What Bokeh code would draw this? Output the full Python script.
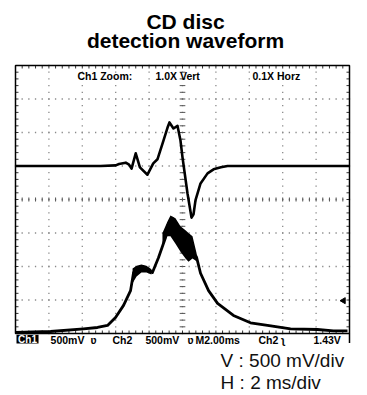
import numpy as np
from bokeh.plotting import figure
from bokeh.models import Range1d
from bokeh.core.properties import value
from bokeh.embed import file_html
from bokeh.resources import INLINE

# ---- data (time in ms, screen voltage in V; 2 ms/div, 500 mV/div) ----
ch1_t = [-10.0, -4.9, -4.0, -3.8, -3.4, -3.2, -3.05, -2.8, -2.55, -2.1, -1.75, -1.5,
         -1.14, -0.9, -0.78, -0.54, -0.30, -0.12, 0.0, 0.30, 0.54, 0.66, 0.78, 1.08,
         1.5, 1.86, 2.3, 2.7, 10.0]
ch1_v = [0.50, 0.50, 0.51, 0.53, 0.55, 0.52, 0.46, 0.69, 0.48, 0.37, 0.54, 0.60,
         0.88, 1.07, 1.15, 1.06, 1.10, 0.88, 0.63, 0.09, -0.27, -0.22, -0.01, 0.24,
         0.39, 0.45, 0.48, 0.50, 0.50]

ch2_t = [-10.0, -7.90, -5.93, -5.09, -4.49, -4.01, -3.53, -3.11, -2.93, -2.69, -2.40,
         -2.10, -1.80, -1.44, -1.02, -0.84, -0.60, -0.30, 0.0, 0.36, 0.60, 0.84, 1.08,
         1.56, 2.10, 3.05, 4.07, 5.09, 6.47, 8.08, 9.04, 9.88]
ch2_v = [-1.985, -1.97, -1.93, -1.91, -1.88, -1.76, -1.58, -1.36, -1.09, -1.03, -1.00,
         -1.03, -1.09, -0.87, -0.57, -0.36, -0.28, -0.45, -0.60, -0.72, -0.75, -0.86,
         -1.10, -1.36, -1.55, -1.73, -1.84, -1.88, -1.93, -1.94, -1.96, -1.96]

# noisy envelope of Ch2 near the main peak
band_t = [-1.20, -0.90, -0.72, -0.42, -0.12, 0.18, 0.36, 0.60, 0.84]
band_hi = [-0.50, -0.33, -0.24, -0.28, -0.40, -0.46, -0.50, -0.55, -0.80]
band_lo = [-0.66, -0.55, -0.55, -0.66, -0.78, -0.88, -0.93, -0.88, -0.92]
# noisy envelope on the shoulder
bump_t = [-2.99, -2.75, -2.46, -2.16, -1.86]
bump_hi = [-1.03, -0.99, -0.97, -0.99, -1.04]
bump_lo = [-1.25, -1.15, -1.09, -1.09, -1.12]

status_texts = ["500mV", "\u028b", "Ch2", "500mV", "\u028b", "M2.00ms", "Ch2", "\u0285", "1.43V"]
zoom_texts = ["Ch1 Zoom:", "1.0X Vert", "0.1X Horz"]

# ---- figure ----
p = figure(width=367, height=395, x_range=Range1d(-10.898, 11.078),
           y_range=Range1d(-2.925, 2.970), output_backend="svg",
           toolbar_location=None, x_axis_location=None, y_axis_location=None,
           min_border=0)
p.outline_line_color = None
p.grid.visible = False
p.background_fill_color = "white"

# graticule dots
dot_col = "#8a8a8a"
xs, ys = [], []
for gx in np.arange(-8, 8.01, 2):
    for gy in np.arange(-2, 2.001, 0.1):
        xs.append(gx); ys.append(gy)
for gy in np.arange(-1.5, 1.501, 0.5):
    for gx in np.arange(-10, 10.001, 0.4):
        xs.append(gx); ys.append(gy)
p.scatter(xs, ys, marker="square", size=1.3, color=dot_col, line_width=0)

# center cross ticks
tx = np.arange(-10, 10.001, 0.4)
p.segment(x0=tx, y0=-0.03, x1=tx, y1=0.03, line_color="#555", line_width=1)
ty = np.arange(-2, 2.001, 0.1)
p.segment(x0=-0.17, y0=ty, x1=0.17, y1=ty, line_color="#555", line_width=1)

# border ticks
p.segment(x0=tx, y0=2.0, x1=tx, y1=1.955, line_color="#333", line_width=1)
p.segment(x0=tx, y0=-2.0, x1=tx, y1=-1.955, line_color="#333", line_width=1)
p.segment(x0=-10, y0=ty, x1=-9.82, y1=ty, line_color="#333", line_width=1)
p.segment(x0=10, y0=ty, x1=9.82, y1=ty, line_color="#333", line_width=1)

# border box
p.quad(left=-10, right=10, bottom=-2.0, top=2.0, fill_color=None,
       line_color="black", line_width=1.5)
p.segment(x0=10, y0=-2.0, x1=10, y1=-2.14, line_color="black", line_width=1.5)

# traces
p.line(ch1_t, ch1_v, line_color="black", line_width=2.6, line_join="round")
p.varea(x=bump_t, y1=bump_lo, y2=bump_hi, fill_color="black")
p.varea(x=band_t, y1=band_lo, y2=band_hi, fill_color="black")
p.line(ch2_t, ch2_v, line_color="black", line_width=2.8, line_join="round")

# trigger level marker
p.scatter([9.64], [-1.51], marker="triangle", angle=np.pi / 2, size=6, color="black")

# scope annotations
sfont = value("Liberation Sans")
p.text(x=[-6.29, -1.62, 4.19], y=[1.85, 1.85, 1.85], text=zoom_texts,
       text_font=sfont, text_font_size="10.5px", text_font_style="bold",
       text_baseline="middle", text_color="black")

p.quad(left=-9.94, right=-8.62, bottom=-2.15, top=-2.02, fill_color="black", line_color=None)
p.text(x=[-9.28], y=[-2.087], text=["Ch1"], text_font=sfont, text_font_size="10px",
       text_font_style="bold", text_align="center", text_baseline="middle", text_color="white")
p.text(x=[-7.90, -5.51, -4.19, -2.22, 0.30, 0.78, 4.55, 5.93, 7.84],
       y=[-2.09] * 9, text=status_texts, text_font=sfont, text_font_size="10.5px",
       text_font_style="bold", text_baseline="middle", text_color="black")

# title and scale notes
p.text(x=[0.18, 0.18], y=[2.664, 2.366], text=["CD disc", "detection waveform"],
       text_font=sfont, text_font_size="21px", text_font_style="bold",
       text_align="center", text_baseline="middle", text_color="black")
p.text(x=[2.28, 2.28], y=[-2.403, -2.724], text=["V : 500 mV/div", "H : 2 ms/div"],
       text_font=sfont, text_font_size="19px", text_baseline="middle",
       text_color="#111")

open("out.html", "w").write(file_html(p, INLINE))
